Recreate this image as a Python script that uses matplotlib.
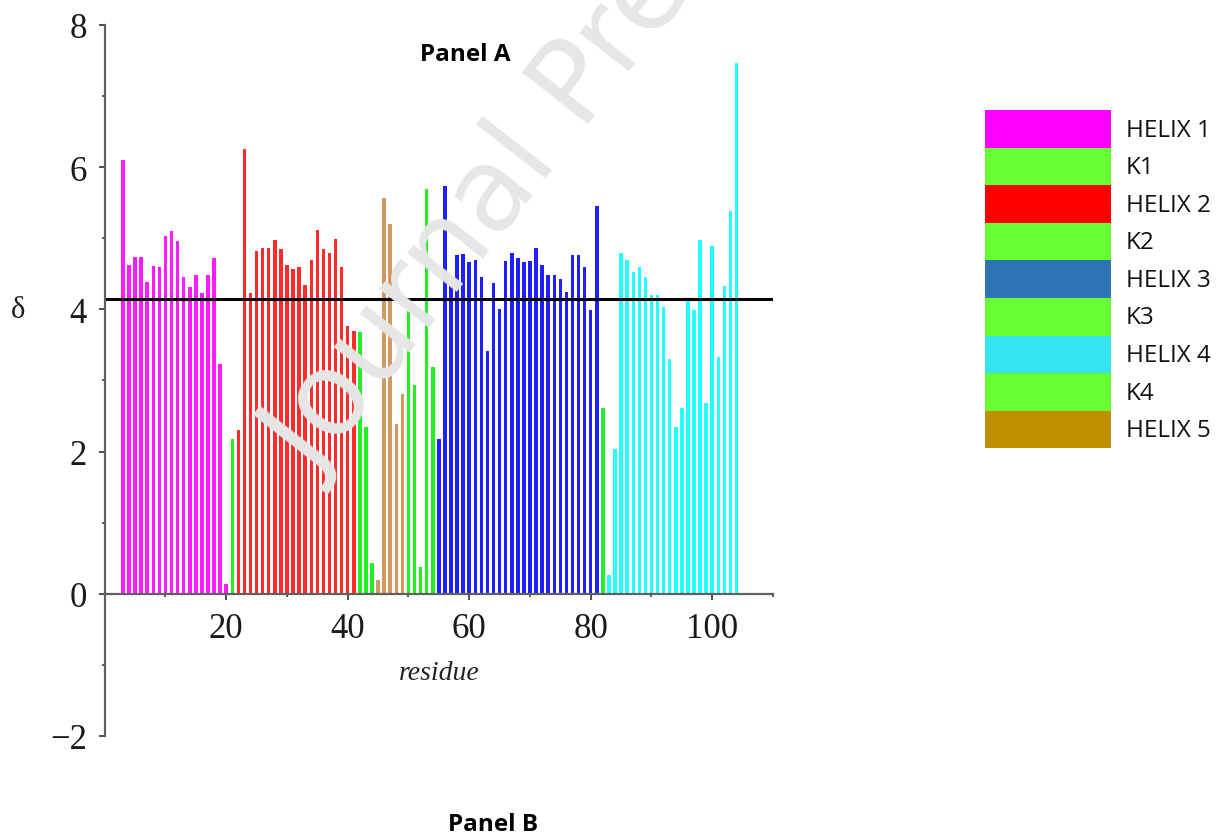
import numpy as np
import matplotlib
matplotlib.use("Agg")
import matplotlib.pyplot as plt

# residues 3..104 and their delta values
residues = np.arange(3, 105)
delta = [6.10, 4.63, 4.74, 4.74, 4.38, 4.61, 4.60, 5.03, 5.10, 4.96,
         4.46, 4.31, 4.48, 4.23, 4.48, 4.72, 3.23, 0.14, 2.18, 2.30,
         6.25, 4.23, 4.82, 4.87, 4.87, 4.98, 4.85, 4.62, 4.57, 4.59,
         4.35, 4.69, 5.11, 4.85, 4.80, 4.99, 4.60, 3.76, 3.69, 3.68,
         2.35, 0.44, 0.19, 5.56, 5.20, 2.39, 2.81, 4.01, 2.93, 0.38,
         5.70, 3.19, 2.18, 5.73, 4.35, 4.76, 4.78, 4.66, 4.70, 4.45,
         3.42, 4.37, 4.01, 4.68, 4.80, 4.72, 4.66, 4.68, 4.87, 4.62,
         4.48, 4.48, 4.43, 4.25, 4.76, 4.76, 4.60, 3.99, 5.45, 2.61,
         0.27, 2.03, 4.79, 4.70, 4.53, 4.60, 4.46, 4.20, 4.20, 4.03,
         3.30, 2.35, 2.61, 4.15, 3.99, 4.98, 2.69, 4.89, 3.33, 4.33,
         5.39, 7.47]
threshold = 4.15

# colour segments along the sequence (first residue, last residue, colour)
seg_start = [3, 21, 22, 42, 45, 50, 55, 82, 83]
seg_end = [20, 21, 41, 44, 49, 54, 81, 82, 104]
seg_color = ["#ff1aff", "#22f022", "#ff2b2b", "#22f022", "#d4975e",
             "#22f022", "#2020ff", "#22f022", "#22ffff"]

legend_labels = ["HELIX 1", "K1", "HELIX 2", "K2", "HELIX 3", "K3",
                 "HELIX 4", "K4", "HELIX 5"]
legend_colors = ["#ff00ff", "#66ff33", "#ff0000", "#66ff33", "#2e75b6",
                 "#66ff33", "#33e5ef", "#66ff33", "#bf8f00"]

bar_colors = []
for r in residues:
    for s, e, c in zip(seg_start, seg_end, seg_color):
        if s <= r <= e:
            bar_colors.append(c)
            break

W, H = 1218, 837
fig = plt.figure(figsize=(W / 100, H / 100), dpi=100)
ax = fig.add_axes([104.7 / W, 1 - 737 / H, (773 - 104.7) / W, (737 - 26) / H])

ax.bar(residues, delta, width=0.58, color=bar_colors, linewidth=0, zorder=2)
ax.plot([0, 110], [threshold, threshold], color="black", lw=2.2, zorder=3)

ax.set_xlim(0, 110)
ax.set_ylim(-2, 8)
ax.spines["top"].set_visible(False)
ax.spines["right"].set_visible(False)
ax.spines["bottom"].set_position("zero")
for side in ["left", "bottom"]:
    ax.spines[side].set_color("#606060")
    ax.spines[side].set_linewidth(1.6)
    ax.spines[side].set_zorder(4)

ax.set_xticks([20, 40, 60, 80, 100])
ax.set_xticks([10, 30, 50, 70, 90, 110], minor=True)
ax.set_yticks([-2, 0, 2, 4, 6, 8])
ax.set_yticks([-1, 1, 3, 5, 7], minor=True)
ax.tick_params(which="major", direction="out", length=4, width=1.3,
               color="#404040", labelsize=25, labelcolor="#1a1a1a", pad=9)
ax.tick_params(which="minor", direction="out", length=2.5, width=1.2,
               color="#404040")
for lab in ax.get_xticklabels() + ax.get_yticklabels():
    lab.set_family("Liberation Serif")

ax.text(55, -1.1, "residue", ha="center", va="center", fontsize=20,
        style="italic", family="Liberation Serif", color="#222222")
ax.text(-14.3, 4.0, "δ", ha="center", va="center", fontsize=22,
        family="Liberation Serif", color="#222222", clip_on=False)

# watermark
fig.text(316 / W, 1 - 480 / H, "Journal Pre-proof", rotation=52,
         rotation_mode="anchor", ha="left", va="baseline", fontsize=83,
         family="DejaVu Sans", color="#e6e6e6", zorder=10)

fig.text(465 / W, 1 - 55 / H, "Panel A", ha="center", va="center",
         fontsize=17.5, fontweight="bold", family="Open Sans", zorder=11)
fig.text(493 / W, 1 - 825 / H, "Panel B", ha="center", va="center",
         fontsize=17.5, fontweight="bold", family="Open Sans")

# legend as colour blocks
lax = fig.add_axes([985 / W, 1 - 449.3 / H, (W - 985) / W, (449.3 - 111) / H])
lax.set_xlim(0, W - 985)
lax.set_ylim(len(legend_labels), 0)
lax.axis("off")
for i, (lab, col) in enumerate(zip(legend_labels, legend_colors)):
    lax.barh(i + 0.5, 125.7, height=1.0, left=0, color=col, linewidth=0)
    lax.text(141, i + 0.52, lab, va="center", ha="left", fontsize=17.5,
             family="Open Sans", color="#111111")

fig.savefig("out.png", dpi=100)
